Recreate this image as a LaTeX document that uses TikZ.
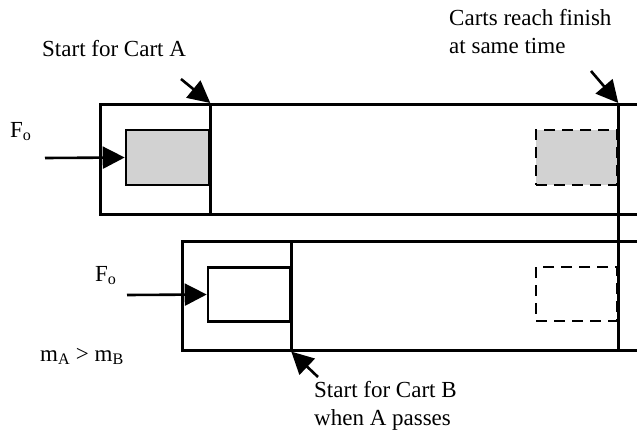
\documentclass[tikz,border=0pt]{standalone}
\usepackage{fontspec}
\setmainfont{Liberation Serif}
\usetikzlibrary{arrows.meta}

\begin{document}
\begin{tikzpicture}[
    x=1pt, y=-1pt,
    wall/.style={line width=2.6pt},
    track/.style={
        rectangle,
        draw=black,
        line width=2.6pt,
        inner sep=0pt
    },
    cart/.style={
        rectangle,
        draw=black,
        line width=2.6pt,
        minimum width=82pt,
        minimum height=54pt,
        inner sep=0pt
    },
    ghost/.style={cart, dash pattern=on 11pt off 7pt},
    label/.style={anchor=base west, inner sep=0pt, align=left,
        font=\fontsize{23}{27.5}\selectfont},
    arrow/.style={-{Triangle[length=22pt,width=22pt]}, line width=2.6pt}
]
\clip (0,0) rectangle (637,439);

% tracks
\node[track, minimum width=560pt, minimum height=110pt, anchor=north west] (trackA) at (99,103) {};
\node[track, minimum width=480pt, minimum height=109pt, anchor=north west] (trackB) at (181,240) {};

% carts at the start
\node[cart, fill=gray!35, minimum width=83pt, minimum height=55pt] (cartA) at (167.5,157.5) {};
\node[cart] (cartB) at (249,294.5) {};

% carts at the finish
\node[ghost, fill=gray!35, minimum width=81pt, minimum height=55pt] (ghostA) at (576.5,157.5) {};
\node[ghost, minimum width=81pt] (ghostB) at (576.5,294) {};

% start and finish lines
\draw[wall] (cartA.east |- trackA.north) -- (cartA.east |- trackA.south);
\draw[wall] (cartB.east |- trackB.north) -- (cartB.east |- trackB.south);
\draw[wall] (ghostA.east |- trackA.north) -- (ghostA.east |- trackB.south);

% applied force
\coordinate (pushA) at (45,158);
\coordinate (pushB) at (127,295);
\draw[arrow] (pushA) -- (cartA.west);
\draw[arrow] (pushB) -- (cartB.west);

% texts (base of a two-line text is its last line)
\node[label] (forceA) at (10,137) {F\textsubscript{o}};
\node[label] (forceB) at (95,281) {F\textsubscript{o}};
\node[label] (mass) at (40,361) {m\textsubscript{A} > m\textsubscript{B}};
\node[label] (startA) at (42,56) {Start for Cart A};
\node[label] (finish) at (449,53) {Carts reach finish\\at same time};
\node[label] (startB) at (314,425) {Start for Cart B\\when A passes};

% pointers
\coordinate (tipA) at (181,79);
\coordinate (tipF) at (591,71);
\coordinate (tipB) at (318,377);
\draw[arrow] (tipA) -- (cartA.east |- trackA.north);
\draw[arrow] (tipF) -- (ghostA.east |- trackA.north);
\draw[arrow] (tipB) -- (cartB.east |- trackB.south);

\end{tikzpicture}
\end{document}
